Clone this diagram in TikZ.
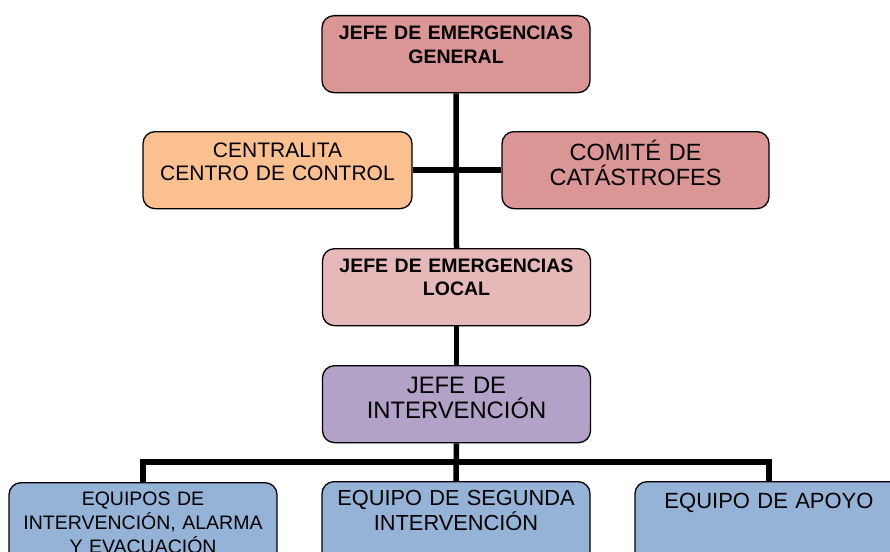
\documentclass[tikz,border=0pt]{standalone}
\usepackage{fontspec}
\setmainfont{Liberation Sans}
\definecolor{rosa}{RGB}{217,150,148}
\definecolor{rosaclaro}{RGB}{230,185,184}
\definecolor{naranja}{RGB}{250,192,144}
\definecolor{lila}{RGB}{178,162,199}
\definecolor{azul}{RGB}{149,179,215}
\begin{document}
\begin{tikzpicture}[x=1pt,y=-1pt,
    caja/.style={draw=black, line width=1.3pt, rounded corners=12pt, inner sep=0pt,
        text width=268pt, align=center, anchor=north},
    linea/.style={line width=5.5pt, black}]
        \clip (0,0) rectangle (890,551);
        \node[caja, fill=rosa, text height=24pt, text depth=53pt,
            font=\fontsize{19.5}{23.5}\selectfont\bfseries] (gen) at (456,15) {JEFE DE EMERGENCIAS\\GENERAL};
        \node[caja, fill=naranja, text width=269pt, text height=26pt, text depth=51pt,
            font=\fontsize{21}{23}\selectfont] (cent) at (277.5,131) {CENTRALITA\\CENTRO DE CONTROL};
        \node[caja, fill=rosa, text width=267pt, text height=29pt, text depth=48pt,
            font=\fontsize{23.5}{25}\selectfont] (comite) at (635.5,131) {COMITÉ DE\\CATÁSTROFES};
        \node[caja, fill=rosaclaro, text height=24pt, text depth=53pt,
            font=\fontsize{19.5}{23}\selectfont\bfseries] (local) at (456.5,248) {JEFE DE EMERGENCIAS\\LOCAL};
        \node[caja, fill=lila, text height=28pt, text depth=49pt,
            font=\fontsize{23.8}{25}\selectfont] (interv) at (456.5,365) {JEFE DE\\INTERVENCIÓN};
        \node[caja, fill=azul, text height=23pt, text depth=60pt,
            font=\fontsize{19.5}{24}\selectfont] (eq1) at (143,482) {EQUIPOS DE\\INTERVENCIÓN, ALARMA\\Y EVACUACIÓN};
        \node[caja, fill=azul, text height=24pt, text depth=60pt,
            font=\fontsize{21.8}{25}\selectfont] (eq2) at (456,481) {EQUIPO DE SEGUNDA\\INTERVENCIÓN};
        \node[caja, fill=azul, text height=27pt, text depth=60pt,
            font=\fontsize{22}{25}\selectfont] (eq3) at (769,481) {EQUIPO DE APOYO};
        \coordinate (barra) at (456,462);
        \draw[linea] (gen.south) -- (local.north);
        \draw[linea] (cent.east) -- (comite.west);
        \draw[linea] (local.south) -- (interv.north);
        \draw[linea] (interv.south) -- (eq2.north);
        \draw[linea] (eq1.north) |- (barra) -| (eq3.north);
\end{tikzpicture}
\end{document}
